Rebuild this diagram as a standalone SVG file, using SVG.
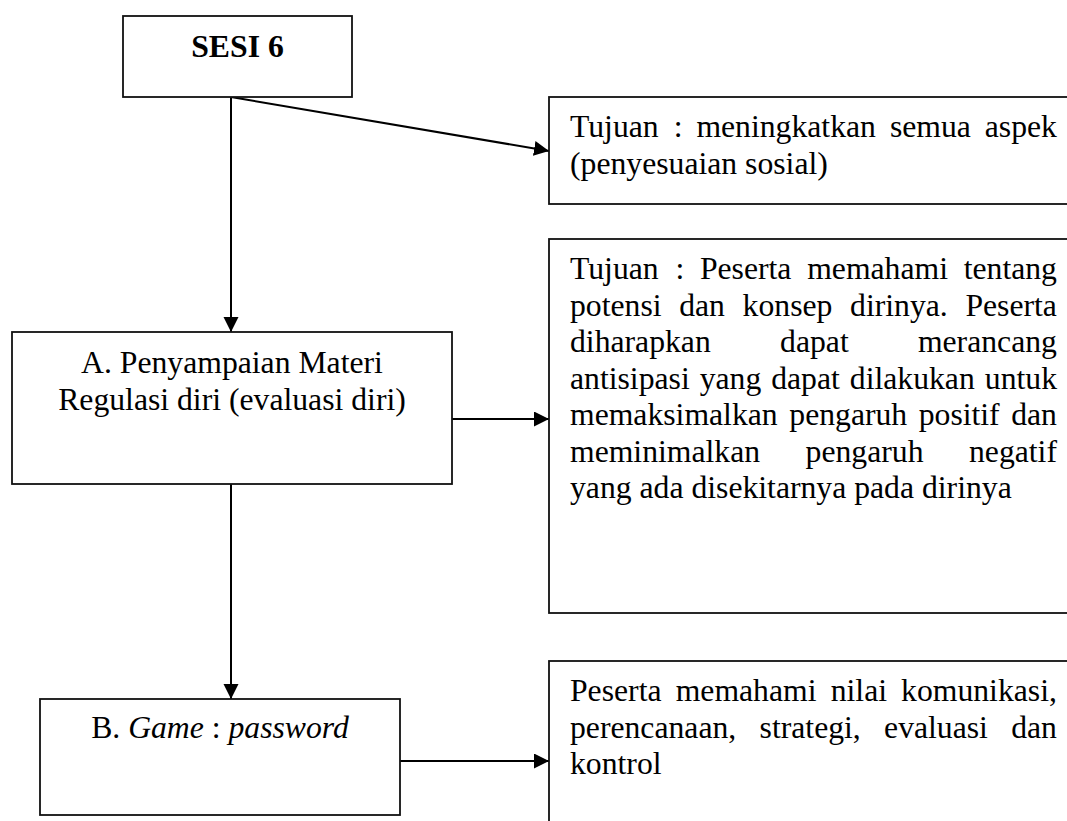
<svg xmlns="http://www.w3.org/2000/svg" width="1067" height="821" viewBox="0 0 1067 821">
  <style>
    .box { fill: #ffffff; stroke: #111111; stroke-width: 1.8; }
    .txt { font-family: "Liberation Serif", "Times New Roman", serif; font-size: 31.7px; fill: #000000; }
    .bold { font-weight: bold; }
    .it { font-style: italic; }
    .mid { text-anchor: middle; }
    .link { fill: none; stroke: #000000; stroke-width: 2; }
  </style>
  <defs>
    <marker id="arrow" markerUnits="userSpaceOnUse" markerWidth="16" markerHeight="16" refX="15" refY="7.5" orient="auto">
      <path d="M0,0 L15,7.5 L0,15 Z" fill="#000000"/>
    </marker>
  </defs>

  <rect width="1067" height="821" fill="#ffffff"/>

  <!-- connectors -->
  <g id="connectors">
    <line class="link" x1="231" y1="97" x2="549" y2="151" marker-end="url(#arrow)"/>
    <line class="link" x1="231" y1="97" x2="231" y2="332" marker-end="url(#arrow)"/>
    <line class="link" x1="452" y1="419" x2="549" y2="419" marker-end="url(#arrow)"/>
    <line class="link" x1="231" y1="484" x2="231" y2="699" marker-end="url(#arrow)"/>
    <line class="link" x1="400" y1="761" x2="549" y2="761" marker-end="url(#arrow)"/>
  </g>

  <!-- session header -->
  <g id="sesi">
    <rect class="box" x="123" y="16" width="229" height="81"/>
    <text class="txt bold mid" x="237.5" y="57">SESI 6</text>
  </g>

  <!-- overall goal -->
  <g id="tujuan-umum">
    <rect class="box" x="549" y="97" width="540" height="107"/>
    <text class="txt" y="137">
      <tspan x="570">Tujuan</tspan><tspan x="673.7">:</tspan><tspan x="696.4">meningkatkan</tspan><tspan x="889.9">semua</tspan><tspan x="984.8">aspek</tspan>
    </text>
    <text class="txt" x="570" y="173.5">(penyesuaian sosial)</text>
  </g>

  <!-- step A -->
  <g id="materi">
    <rect class="box" x="12" y="332" width="440" height="152"/>
    <text class="txt mid" x="232" y="372.5">A. Penyampaian Materi</text>
    <text class="txt mid" x="232" y="409.5">Regulasi diri (evaluasi diri)</text>
  </g>

  <!-- goal of step A -->
  <g id="tujuan-materi">
    <rect class="box" x="549" y="239" width="540" height="374"/>
    <text class="txt" y="279">
      <tspan x="570">Tujuan</tspan><tspan x="675.5">:</tspan><tspan x="699.9">Peserta</tspan><tspan x="807.2">memahami</tspan><tspan x="963.7">tentang</tspan>
    </text>
    <text class="txt" y="315.5">
      <tspan x="570">potensi</tspan><tspan x="679.2">dan</tspan><tspan x="742.6">konsep</tspan><tspan x="850.1">dirinya.</tspan><tspan x="965.4">Peserta</tspan>
    </text>
    <text class="txt" y="352">
      <tspan x="570">diharapkan</tspan><tspan x="780.1">dapat</tspan><tspan x="917.9">merancang</tspan>
    </text>
    <text class="txt" y="388.5">
      <tspan x="570">antisipasi</tspan><tspan x="699.7">yang</tspan><tspan x="771.2">dapat</tspan><tspan x="849.8">dilakukan</tspan><tspan x="984.8">untuk</tspan>
    </text>
    <text class="txt" y="425">
      <tspan x="570">memaksimalkan</tspan><tspan x="789.3">pengaruh</tspan><tspan x="918.7">positif</tspan><tspan x="1011.2">dan</tspan>
    </text>
    <text class="txt" y="461.5">
      <tspan x="570">meminimalkan</tspan><tspan x="805.6">pengaruh</tspan><tspan x="969">negatif</tspan>
    </text>
    <text class="txt" x="570" y="498">yang ada disekitarnya pada dirinya</text>
  </g>

  <!-- step B -->
  <g id="game">
    <rect class="box" x="40" y="699" width="360" height="116"/>
    <text class="txt mid" x="220" y="738">B. <tspan class="it">Game</tspan> : <tspan class="it">password</tspan></text>
  </g>

  <!-- goal of step B -->
  <g id="tujuan-game">
    <rect class="box" x="549" y="661" width="540" height="200"/>
    <text class="txt" y="701">
      <tspan x="570">Peserta</tspan><tspan x="675.7">memahami</tspan><tspan x="830.7">nilai</tspan><tspan x="901.1">komunikasi,</tspan>
    </text>
    <text class="txt" y="737.5">
      <tspan x="570">perencanaan,</tspan><tspan x="759.6">strategi,</tspan><tspan x="884.1">evaluasi</tspan><tspan x="1011.2">dan</tspan>
    </text>
    <text class="txt" x="570" y="774">kontrol</text>
  </g>
</svg>
